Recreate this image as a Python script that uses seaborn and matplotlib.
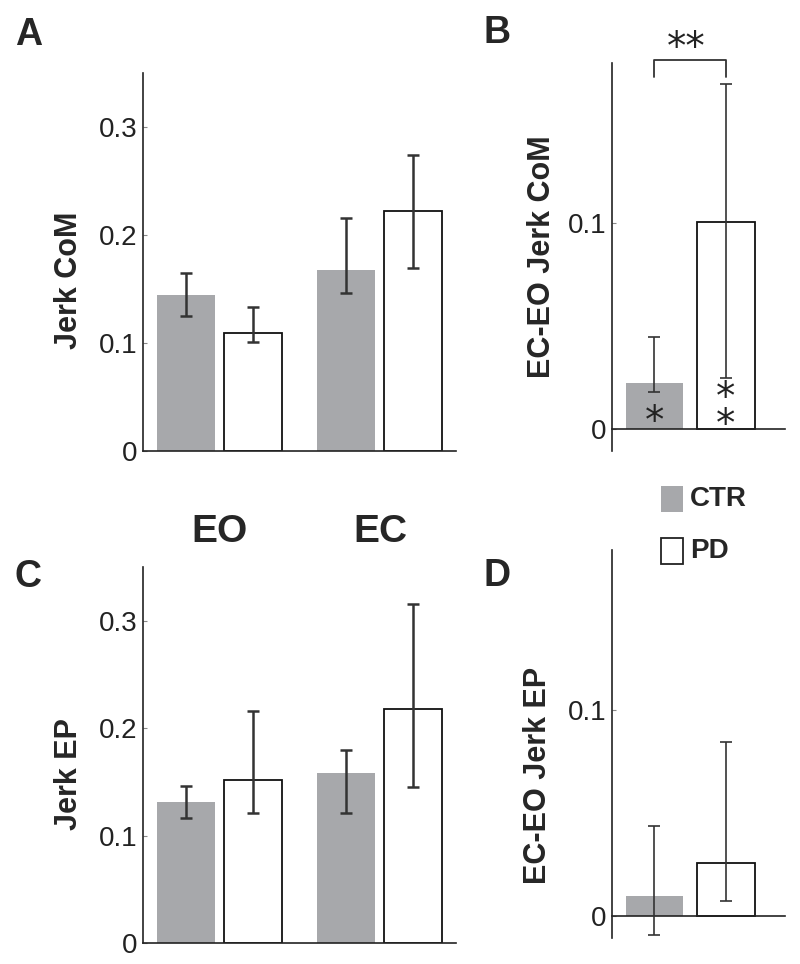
import matplotlib
matplotlib.use("Agg")
import matplotlib.pyplot as plt
from matplotlib.patches import Rectangle
import seaborn as sns
import pandas as pd

conditions = ["EO", "EC"]
groups = ["CTR", "PD"]

# A: Jerk CoM, order EO-CTR, EO-PD, EC-CTR, EC-PD
com_mean = [0.144, 0.109, 0.168, 0.222]
com_low = [0.125, 0.101, 0.146, 0.169]
com_high = [0.165, 0.133, 0.216, 0.274]

# B: EC-EO Jerk CoM, CTR / PD
dcom_mean = [0.0223, 0.1005]
dcom_low = [0.018, 0.025]
dcom_high = [0.0446, 0.168]

# C: Jerk EP
ep_mean = [0.131, 0.152, 0.158, 0.218]
ep_low = [0.116, 0.121, 0.121, 0.145]
ep_high = [0.146, 0.216, 0.180, 0.316]

# D: EC-EO Jerk EP
dep_mean = [0.0098, 0.026]
dep_low = [-0.0093, 0.0074]
dep_high = [0.0436, 0.0848]

GRAY = "#a7a8ab"
palette = {"CTR": GRAY, "PD": "white"}

sns.set_style("white")
plt.rcParams['font.family'] = ['Liberation Sans', 'DejaVu Sans']
plt.rcParams['axes.unicode_minus'] = False

W, H = 800, 964
fig = plt.figure(figsize=(W / 100, H / 100), dpi=100)


def px_axes(x0, x1, y_top, y_bot):
    return fig.add_axes([x0 / W, 1 - y_bot / H, (x1 - x0) / W, (y_bot - y_top) / H])


def style_axes(ax, yticks, ylim):
    ax.set_ylim(*ylim)
    ax.set_yticks(yticks)
    ax.set_yticklabels([("%g" % t) for t in yticks])
    ax.set_xticks([])
    ax.set_xlabel("")
    for s in ["top", "right"]:
        ax.spines[s].set_visible(False)
    for s in ["left", "bottom"]:
        ax.spines[s].set_color("#222222")
        ax.spines[s].set_linewidth(1.2)
    ax.tick_params(axis="y", direction="in", length=3, width=0.8, colors="#888888",
                   labelcolor="#222222", labelsize=20, pad=4, left=True)


def style_bars(bars):
    for p in bars:
        if p.get_facecolor()[0] > 0.9:
            p.set_edgecolor("#111111")
            p.set_linewidth(1.3)
        else:
            p.set_edgecolor("none")


def add_err(ax, bars, mean, low, high, lw):
    xs = [p.get_x() + p.get_width() / 2 for p in bars]
    yerr = [[m - l for m, l in zip(mean, low)], [h - m for m, h in zip(mean, high)]]
    ax.errorbar(xs, mean, yerr=yerr, fmt="none", ecolor="#333333",
                elinewidth=lw, capsize=4, capthick=lw, zorder=5)


def cond_panel(ax, mean, low, high, ylabel, label_y):
    df = pd.DataFrame({
        "condition": [c for c in conditions for g in groups],
        "group": groups * 2,
        "value": mean,
    })
    sns.barplot(data=df, x="condition", y="value", hue="group", order=conditions,
                hue_order=groups, palette=palette, width=0.84, gap=0.137,
                errorbar=None, legend=False, saturation=1, ax=ax)
    bars = sorted(ax.patches, key=lambda p: p.get_x())
    style_bars(bars)
    add_err(ax, bars, mean, low, high, 1.8)
    ax.set_xlim(-0.48, 1.477)
    style_axes(ax, [0, 0.1, 0.2, 0.3], (0, 0.35))
    ax.set_ylabel(ylabel, fontsize=22, fontweight="bold")
    ax.yaxis.set_label_coords(-0.19, label_y)


def diff_panel(ax, mean, low, high, ylabel, lx, ly):
    df = pd.DataFrame({"group": groups, "value": mean})
    sns.barplot(data=df, x="group", y="value", hue="group", order=groups,
                hue_order=groups, palette=palette, width=0.8, errorbar=None,
                legend=False, saturation=1, ax=ax)
    bars = sorted(ax.patches, key=lambda p: p.get_x())
    style_bars(bars)
    add_err(ax, bars, mean, low, high, 1.2)
    ax.set_xlim(-0.594, 1.825)
    style_axes(ax, [0, 0.1], (-0.0107, 0.178))
    ax.spines["bottom"].set_position(("data", 0))
    ax.set_ylabel(ylabel, fontsize=22, fontweight="bold")
    ax.yaxis.set_label_coords(lx, ly)


axA = px_axes(143, 456, 73, 451)
cond_panel(axA, com_mean, com_low, com_high, "Jerk CoM", 0.452)

axB = px_axes(612, 785, 63, 451)
diff_panel(axB, dcom_mean, dcom_low, dcom_high, "EC-EO Jerk CoM", -0.318, 0.5)
# significance marks
axB.text(0, 0.0035, "*", ha="center", va="center", fontsize=28, color="#222222",
         family="DejaVu Sans")
axB.text(1, 0.0085, "*\n*", ha="center", va="center", fontsize=28, color="#222222",
         family="DejaVu Sans", linespacing=0.62)
axB.plot([0, 0, 1, 1], [0.171, 0.1796, 0.1796, 0.171], color="#333333", lw=1.3,
         clip_on=False)
axB.text(0.45, 0.1855, "**", ha="center", va="center", fontsize=28, color="#222222",
         family="DejaVu Sans", clip_on=False)

axC = px_axes(143, 456, 567, 943)
cond_panel(axC, ep_mean, ep_low, ep_high, "Jerk EP", 0.449)

axD = px_axes(612, 785, 550, 938)
diff_panel(axD, dep_mean, dep_low, dep_high, "EC-EO Jerk EP", -0.341, 0.418)

# panel letters
for lab, x, y in [("A", 15, 35), ("B", 483, 33), ("C", 15, 577), ("D", 483, 576)]:
    fig.text(x / W, 1 - y / H, lab, ha="left", va="center", fontsize=27,
             fontweight="bold")

# condition labels
for lab, x in zip(conditions, [219, 380]):
    fig.text(x / W, 1 - 532 / H, lab, ha="center", va="center", fontsize=28,
             fontweight="bold")

# legend
for g, yc in zip(groups, [499, 551]):
    rect = Rectangle((661 / W, 1 - (yc + 13) / H), 22 / W, 26 / H,
                     transform=fig.transFigure, facecolor=palette[g],
                     edgecolor="none" if g == "CTR" else "#222222", lw=1.3)
    fig.add_artist(rect)
    fig.text(690 / W, 1 - yc / H, g, ha="left", va="center", fontsize=20,
             fontweight="bold")

fig.savefig("out.png", dpi=100)
